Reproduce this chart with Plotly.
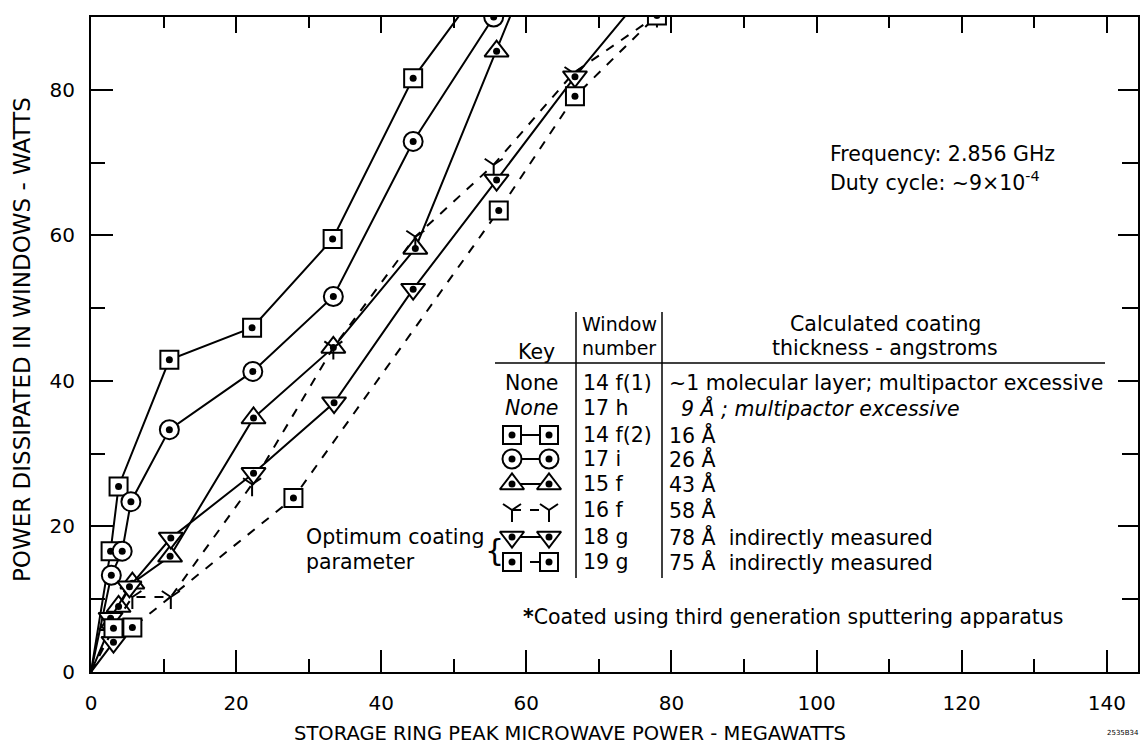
import plotly.graph_objects as go

# ---------------- data ----------------
x_14f2 = [0, 2.7, 3.8, 10.8, 22.2, 33.3, 44.4, 55.5]
y_14f2 = [0, 16.6, 25.5, 42.9, 47.3, 59.5, 81.6, 96.6]

x_17i = [0, 2.8, 4.3, 5.5, 10.8, 22.3, 33.4, 44.4, 55.5]
y_17i = [0, 13.3, 16.6, 23.4, 33.3, 41.3, 51.6, 72.9, 90.0]

x_15f = [0, 2.8, 3.8, 5.7, 10.9, 22.4, 33.4, 44.7, 55.9, 60.0]
y_15f = [0, 6.5, 9.0, 12.2, 15.9, 34.9, 44.6, 58.2, 85.3, 95.5]

x_16f = [0, 2.5, 5.7, 11.0, 22.2, 33.4, 44.7, 55.5, 66.5, 78.0]
y_16f = [0, 5.5, 10.3, 10.3, 25.8, 44.6, 59.8, 69.7, 82.3, 90.2]

x_18g = [0, 3.1, 2.7, 5.3, 11.0, 22.4, 33.5, 44.4, 55.9, 66.7, 78.0]
y_18g = [0, 4.1, 7.4, 11.7, 18.4, 27.3, 37.0, 52.6, 67.6, 81.8, 95.4]

x_19g = [0, 3.1, 5.7, 27.9, 56.2, 66.7, 78.0]
y_19g = [0, 6.0, 6.1, 23.9, 63.4, 79.1, 90.2]

x_ticks = [0, 20, 40, 60, 80, 100, 120, 140]
y_ticks = [0, 20, 40, 60, 80]

table_windows = ["14 f(1)", "17 h", "14 f(2)", "17 i", "15 f", "16 f", "18 g", "19 g"]
table_thickness = ["~1 molecular layer; multipactor excessive",
                   "<i>9 Å ; multipactor excessive</i>",
                   "16 Å", "26 Å", "43 Å", "58 Å",
                   "78 Å  indirectly measured", "75 Å  indirectly measured"]

# ---------------- layout geometry ----------------
W, H = 1142, 744
L, R, T, B = 91, 1138, 17, 672
XMAX, YMAX = 144.3, 90
FONT = "DejaVu Sans"
TS = 20.5  # table / note text size


def pxx(x):
    return (x - L) / (R - L)


def pxy(y):
    return (B - y) / (B - T)


def dx(x):
    return (x - L) / (R - L) * XMAX


def dy(y):
    return (B - y) / (B - T) * YMAX


fig = go.Figure()

styles = {
    "14f2": dict(symbol="square", dash="solid", size=18),
    "17i": dict(symbol="circle", dash="solid", size=19),
    "15f": dict(symbol="triangle-up", dash="solid", size=21),
    "16f": dict(symbol="y-down", dash="dash", size=15),
    "18g": dict(symbol="triangle-down", dash="solid", size=21),
    "19g": dict(symbol="square", dash="dash", size=18),
}

series = [("14f2", x_14f2, y_14f2), ("17i", x_17i, y_17i), ("15f", x_15f, y_15f),
          ("16f", x_16f, y_16f), ("18g", x_18g, y_18g), ("19g", x_19g, y_19g)]


def add_series(name, xs, ys, mask_first=True):
    st = styles[name]
    fig.add_trace(go.Scatter(x=xs, y=ys, mode="lines", cliponaxis=True,
                             line=dict(color="black", width=2, dash=st["dash"]),
                             showlegend=False, hoverinfo="skip"))
    mx = xs[1:] if mask_first else xs
    my = ys[1:] if mask_first else ys
    if name == "16f":
        fig.add_trace(go.Scatter(x=mx, y=my, mode="markers", cliponaxis=True,
                                 marker=dict(symbol=st["symbol"], size=st["size"],
                                             line=dict(color="black", width=2)),
                                 showlegend=False, hoverinfo="skip"))
    else:
        fig.add_trace(go.Scatter(x=mx, y=my, mode="markers", cliponaxis=True,
                                 marker=dict(symbol=st["symbol"], size=st["size"], color="white",
                                             line=dict(color="black", width=2)),
                                 showlegend=False, hoverinfo="skip"))
        fig.add_trace(go.Scatter(x=mx, y=my, mode="markers", cliponaxis=True,
                                 marker=dict(symbol="circle", size=7, color="black"),
                                 showlegend=False, hoverinfo="skip"))


for name, xs, ys in series:
    add_series(name, xs, ys)

# ---------------- legend keys inside the table ----------------
row_y = [383, 408, 435, 459, 484, 510, 537, 562]
key_names = [None, None, "14f2", "17i", "15f", "16f", "18g", "19g"]
for ry, kn in zip(row_y, key_names):
    if kn is None:
        continue
    add_series(kn, [dx(512), dx(549)], [dy(ry), dy(ry)], mask_first=False)

# ---------------- annotations ----------------
ann = []


def text(x, y, s, size=TS, anchor="left"):
    ann.append(dict(x=pxx(x), y=pxy(y), xref="paper", yref="paper", text=s, showarrow=False,
                    xanchor=anchor, yanchor="middle", font=dict(family=FONT, size=size, color="black")))


text(828, 154, "Frequency: 2.856 GHz", 20.5)
text(828, 182, "Duty cycle: ~9×10<sup>-4</sup>", 20.5)

text(536, 352, "Key", TS, "center")
text(619, 324, "Window", 19, "center")
text(619, 348, "number", 19, "center")
text(885, 324, "Calculated coating", TS, "center")
text(885, 348, "thickness - angstroms", TS, "center")

text(531, row_y[0], "None", TS, "center")
text(531, row_y[1], "<i>None</i>", TS, "center")
for ry, wn, th in zip(row_y, table_windows, table_thickness):
    text(581, ry, wn, TS)
    text(667 if not th.startswith("<i>") else 679, ry, th, TS)

text(304, 537, "Optimum coating", TS)
text(304, 562, "parameter", TS)
text(494, 550, "{", 30, "center")

text(521, 617, "<b>*</b>Coated using third generation sputtering apparatus", TS)

text(570, 733, "STORAGE RING PEAK MICROWAVE POWER - MEGAWATTS", 19.5, "center")
ann.append(dict(x=pxx(22), y=pxy(340), xref="paper", yref="paper",
                text="POWER DISSIPATED IN WINDOWS - WATTS", showarrow=False, textangle=-90,
                xanchor="center", yanchor="middle", font=dict(family=FONT, size=23, color="black")))
text(1123, 733, "2535B34", 7, "center")

shapes = [
    dict(type="line", xref="paper", yref="paper", x0=pxx(495), x1=pxx(1105), y0=pxy(363), y1=pxy(363),
         line=dict(color="black", width=1.5)),
    dict(type="line", xref="paper", yref="paper", x0=pxx(576), x1=pxx(576), y0=pxy(312), y1=pxy(578),
         line=dict(color="black", width=1.5)),
    dict(type="line", xref="paper", yref="paper", x0=pxx(662), x1=pxx(662), y0=pxy(312), y1=pxy(578),
         line=dict(color="black", width=1.5)),
]

axis_common = dict(showgrid=False, zeroline=False, showline=True, linecolor="black", linewidth=2,
                   mirror=False, ticks="inside", tickcolor="black", tickwidth=2)

fig.update_layout(
    width=W, height=H,
    margin=dict(l=L, r=W - R, t=T, b=H - B),
    paper_bgcolor="white", plot_bgcolor="white",
    showlegend=False,
    font=dict(family=FONT, size=18, color="black"),
    annotations=ann, shapes=shapes,
    xaxis=dict(range=[0, XMAX], tickvals=x_ticks, ticklen=22, ticklabelstandoff=12,
               tickfont=dict(family=FONT, size=20),
               minor=dict(dtick=10, tick0=0, ticklen=13, ticks="inside", tickcolor="black", tickwidth=2),
               **axis_common),
    yaxis=dict(range=[0, YMAX], tickvals=y_ticks, ticklen=22, ticklabelstandoff=10,
               tickfont=dict(family=FONT, size=20),
               minor=dict(dtick=10, tick0=0, ticklen=14, ticks="inside", tickcolor="black", tickwidth=2),
               **axis_common),
    xaxis2=dict(range=[0, XMAX], overlaying="x", side="top", tickvals=x_ticks, ticklen=16,
                showticklabels=False,
                minor=dict(dtick=10, tick0=0, ticklen=11, ticks="inside", tickcolor="black", tickwidth=2),
                **axis_common),
    yaxis2=dict(range=[0, YMAX], overlaying="y", side="right", tickvals=y_ticks, ticklen=20,
                showticklabels=False,
                minor=dict(dtick=10, tick0=0, ticklen=16, ticks="inside", tickcolor="black", tickwidth=2),
                **axis_common),
)
fig.add_trace(go.Scatter(x=[0], y=[0], xaxis="x2", yaxis="y2", mode="markers",
                         marker=dict(size=1, opacity=0), showlegend=False, hoverinfo="skip"))

fig.write_html("out.html")
